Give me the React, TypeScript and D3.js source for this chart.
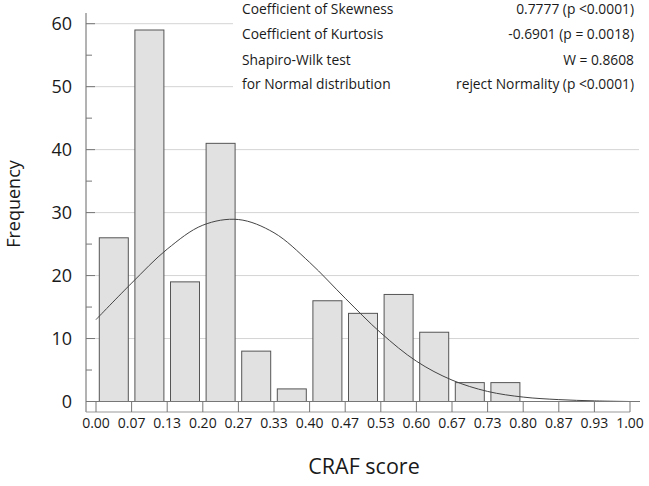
import React from "react";
import * as d3 from "d3";

// Histogram bins (CRAF score, width 1/15) and frequencies
const binEdges = d3.range(0, 16).map((k) => k / 15);
const frequencies = [26, 59, 19, 41, 8, 2, 16, 14, 17, 11, 3, 3, 0, 0, 0];

// Fitted normal curve read at the bin edges
const curveX = d3.range(0, 16).map((k) => k / 15);
const curveY = [13.0, 18.8, 24.2, 28.0, 28.9, 26.8, 22.1, 16.4, 10.9, 6.4, 3.4, 1.6, 0.7, 0.3, 0.1, 0.0];

const xTickLabels = ["0.00", "0.07", "0.13", "0.20", "0.27", "0.33", "0.40", "0.47", "0.53", "0.60", "0.67", "0.73", "0.80", "0.87", "0.93", "1.00"];
const yMajorTicks = [0, 10, 20, 30, 40, 50, 60];
const yMinorTicks = [5, 15, 25, 35, 45, 55];

const statLabels = ["Coefficient of Skewness", "Coefficient of Kurtosis", "Shapiro-Wilk test", "for Normal distribution"];
const statValues = ["0.7777 (p <0.0001)", "-0.6901 (p = 0.0018)", "W = 0.8608", "reject Normality (p <0.0001)"];

const W = 649;
const H = 486;
const FONT = "'Open Sans', 'Noto Sans', sans-serif";

export default function App() {
  const x = d3.scaleLinear().domain([0, 1]).range([96, 630]);
  const y = d3.scaleLinear().domain([0, 60]).range([401.5, 23.7]);
  const axisX = 86;
  const axisBottom = 412;
  const gridRight = 639;
  const inset = 3.3;

  const line = d3
    .line<number>()
    .x((_, i) => x(curveX[i]))
    .y((v) => y(v))
    .curve(d3.curveCatmullRom);

  const statRowY = [13.5, 39, 64.5, 88.5];

  return (
    <svg
      width={W}
      height={H}
      style={{ position: "absolute", left: 0, top: 0, background: "#fff" }}
      fontFamily={FONT}
    >
      <rect x={0} y={0} width={W} height={H} fill="#fff" />
      {/* gridlines */}
      {yMajorTicks.filter((t) => t > 0).map((t) => (
        <line key={"g" + t} x1={axisX} x2={gridRight} y1={y(t)} y2={y(t)} stroke="#d4d4d4" strokeWidth={1} />
      ))}
      {/* stats box background */}
      <rect x={233} y={0} width={W - 233} height={96} fill="#fff" />
      {statLabels.map((s, i) => (
        <text key={"sl" + i} x={242} y={statRowY[i]} fontSize={13.8} fill="#1a1a1a">
          {s}
        </text>
      ))}
      {statValues.map((s, i) => (
        <text key={"sv" + i} x={634} y={statRowY[i]} fontSize={13.8} fill="#1a1a1a" textAnchor="end">
          {s}
        </text>
      ))}
      {/* bars */}
      {frequencies.map((f, i) =>
        f > 0 ? (
          <rect
            key={"b" + i}
            x={x(binEdges[i]) + inset}
            y={y(f)}
            width={x(binEdges[i + 1]) - x(binEdges[i]) - 2 * inset}
            height={y(0) - y(f)}
            fill="#e1e1e1"
            stroke="#555"
            strokeWidth={1}
          />
        ) : null
      )}
      {/* normal curve */}
      <path d={line(curveY) || ""} fill="none" stroke="#444" strokeWidth={1} />
      {/* y axis */}
      <line x1={axisX} x2={axisX} y1={13} y2={axisBottom} stroke="#666" strokeWidth={1} />
      {yMajorTicks.map((t) => (
        <g key={"ym" + t}>
          <line x1={axisX} x2={axisX + 9} y1={y(t)} y2={y(t)} stroke="#777" strokeWidth={1} />
          <text x={72} y={y(t)} dy="0.36em" fontSize={18} textAnchor="end" fill="#1a1a1a">
            {t}
          </text>
        </g>
      ))}
      {yMinorTicks.map((t) => (
        <line key={"yn" + t} x1={axisX} x2={axisX + 6} y1={y(t)} y2={y(t)} stroke="#777" strokeWidth={1} />
      ))}
      {/* x axis */}
      <line x1={axisX} x2={640} y1={y(0)} y2={y(0)} stroke="#777" strokeWidth={1} />
      <line x1={axisX} x2={630} y1={axisBottom} y2={axisBottom} stroke="#999" strokeWidth={1} />
      {binEdges.map((v, i) => (
        <g key={"xt" + i}>
          <line x1={x(v)} x2={x(v)} y1={y(0)} y2={axisBottom} stroke="#777" strokeWidth={1} />
          <text x={x(v)} y={428} fontSize={14} textAnchor="middle" fill="#1a1a1a">
            {xTickLabels[i]}
          </text>
        </g>
      ))}
      {/* axis titles */}
      <text x={364} y={474} fontSize={21.5} textAnchor="middle" fill="#1a1a1a">
        CRAF score
      </text>
      <text transform={`translate(20,204) rotate(-90)`} fontSize={18} textAnchor="middle" fill="#1a1a1a">
        Frequency
      </text>
    </svg>
  );
}
